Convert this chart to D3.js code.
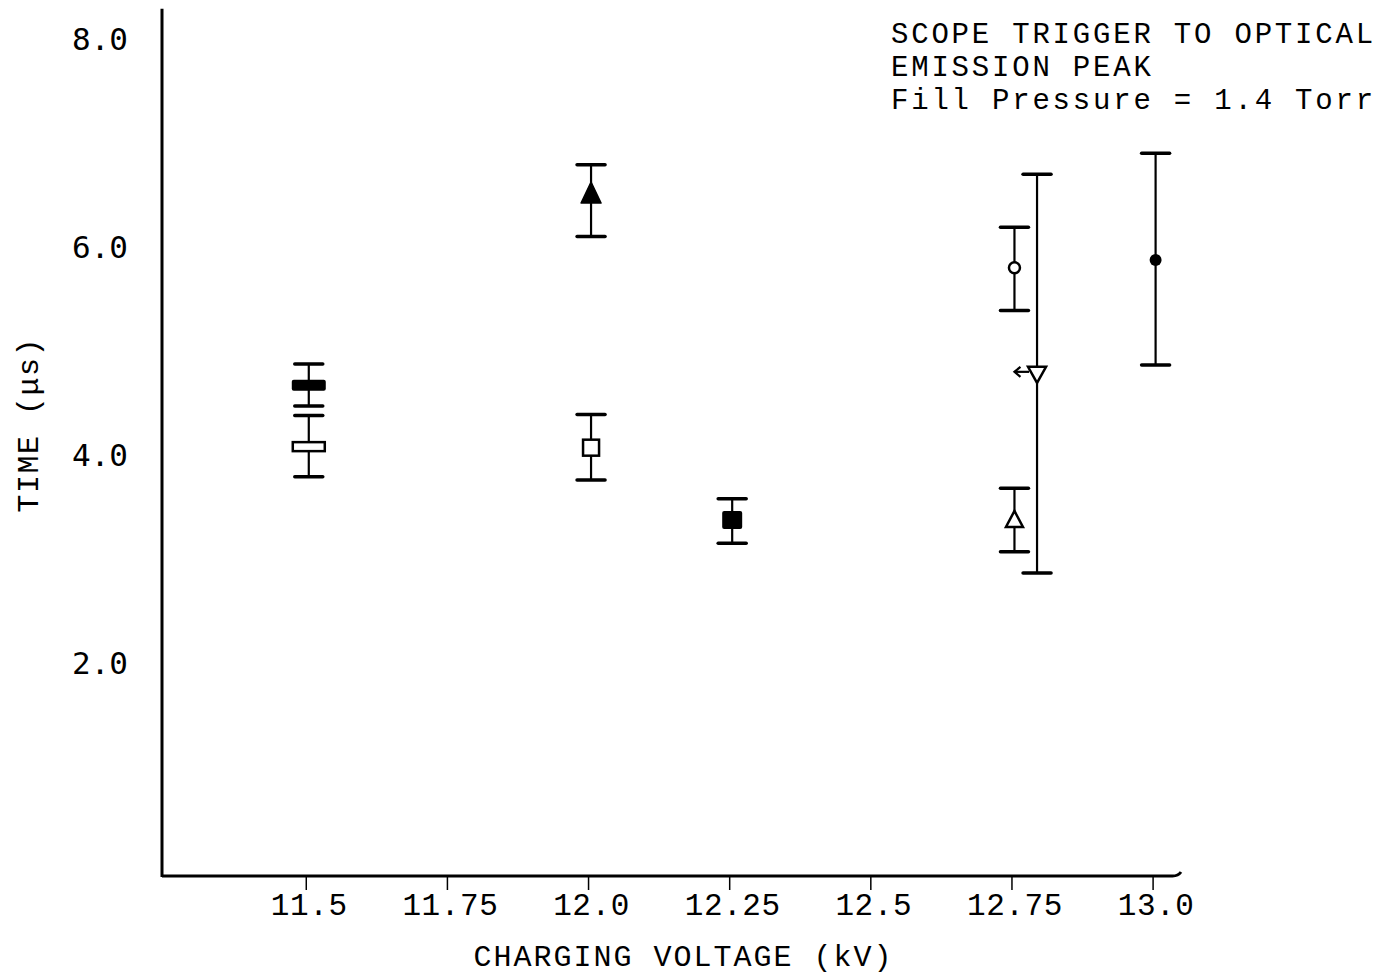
<!DOCTYPE html>
<html>
<head>
<meta charset="utf-8">
<script src="https://cdn.jsdelivr.net/npm/d3@7"></script>
<style>
  html, body { margin: 0; padding: 0; background: #fff; }
  svg { display: block; }
</style>
</head>
<body>
<svg id="chart" width="1381" height="976"></svg>
<script>
// ---- data ----
const xTickValues = [11.5, 11.75, 12.0, 12.25, 12.5, 12.75, 13.0];
const xTickLabels = ["11.5", "11.75", "12.0", "12.25", "12.5", "12.75", "13.0"];
const yTickValues = [2, 4, 6, 8];
const yTickLabels = ["2.0", "4.0", "6.0", "8.0"];

const pointX    = [11.5, 11.5, 12.0, 12.0, 12.25, 12.75, 12.75, 12.79, 13.0];
const pointY    = [4.68, 4.09, 6.51, 4.08, 3.385, 5.81, 3.385, 4.79, 5.885];
const pointLow  = [4.48, 3.80, 6.11, 3.77, 3.16, 5.40, 3.08, 2.875, 4.875];
const pointHigh = [4.885, 4.39, 6.80, 4.40, 3.59, 6.20, 3.69, 6.71, 6.91];
const pointMarker = ["filledBar", "openBar", "filledTriUp", "openSquare", "filledSquare",
                     "openCircle", "openTriUp", "openTriDown", "filledCircle"];
const arrowFrom = [null, null, null, null, null, null, null, 12.79, null];
const arrowTo   = [null, null, null, null, null, null, null, 12.75, null];

const titleLines = ["SCOPE TRIGGER TO OPTICAL", "EMISSION PEAK", "Fill Pressure = 1.4 Torr"];
const xTitle = "CHARGING VOLTAGE (kV)";
const yTitle = "TIME (\u03BCs)";

// ---- scales ----
const svg = d3.select("#chart");
const x = d3.scaleLinear().domain([11.24, 13.045]).range([162, 1181]);
const y = d3.scaleLinear().domain([0, 8]).range([872, 40]);
const yTop = 8.3;
const axisY = y(0) + 4;

const mono = "'Liberation Mono', 'Courier New', monospace";
const sansMono = "'DejaVu Sans Mono', monospace";

// ---- axes ----
svg.append("line")
  .attr("x1", x(11.24)).attr("x2", x(11.24))
  .attr("y1", y(yTop)).attr("y2", axisY + 1)
  .attr("stroke", "#000").attr("stroke-width", 3);

svg.append("path")
  .attr("d", `M${x(11.24)},${axisY} L${x(13.03)},${axisY} Q${x(13.04)},${axisY} ${x(13.045)},${axisY - 4}`)
  .attr("fill", "none").attr("stroke", "#000").attr("stroke-width", 3);

const xAxis = d3.axisBottom(x)
  .tickValues(xTickValues)
  .tickFormat((d, i) => xTickLabels[i])
  .tickSize(14)
  .tickPadding(3);

const gx = svg.append("g").attr("transform", `translate(0,${axisY})`).call(xAxis);
gx.select(".domain").remove();
gx.selectAll(".tick line").attr("stroke", "#000").attr("stroke-width", 1.5).attr("transform", "translate(-3,0)");
gx.selectAll(".tick text")
  .attr("font-family", mono).attr("font-size", 31).attr("letter-spacing", 0.6).attr("fill", "#000")
  .attr("dy", "0.71em");

const yAxis = d3.axisLeft(y)
  .tickValues(yTickValues)
  .tickFormat((d, i) => yTickLabels[i])
  .tickSize(0)
  .tickPadding(34);
const gy = svg.append("g").attr("transform", `translate(${x(11.24)},0)`).call(yAxis);
gy.select(".domain").remove();
gy.selectAll(".tick text")
  .attr("font-family", sansMono).attr("font-size", 31).attr("fill", "#000");

// axis titles
svg.append("text")
  .attr("x", (474 + 893) / 2).attr("y", 966)
  .attr("text-anchor", "middle")
  .attr("font-family", mono).attr("font-size", 30).attr("letter-spacing", 2)
  .attr("fill", "#000")
  .text(xTitle);

svg.append("text")
  .attr("transform", `translate(38,${y(4.3)}) rotate(-90)`)
  .attr("text-anchor", "middle")
  .attr("font-family", mono).attr("font-size", 30).attr("letter-spacing", 1.5)
  .attr("fill", "#000")
  .text(yTitle);

// annotation
svg.append("g").selectAll("text").data(titleLines).join("text")
  .attr("x", 891)
  .attr("y", (d, i) => 43 + i * 33)
  .attr("font-family", mono).attr("font-size", 29).attr("letter-spacing", 2.8)
  .attr("fill", "#000")
  .text(d => d);

// ---- error bars & markers ----
const pts = pointX.map((px, i) => ({
  x: px, y: pointY[i], lo: pointLow[i], hi: pointHigh[i], m: pointMarker[i],
  af: arrowFrom[i], at: arrowTo[i]
}));

const g = svg.append("g");
const capHalf = 14;

pts.forEach(p => {
  const cx = x(p.x), cy = y(p.y);
  // stem
  g.append("line")
    .attr("x1", cx).attr("x2", cx)
    .attr("y1", y(p.hi)).attr("y2", y(p.lo))
    .attr("stroke", "#000").attr("stroke-width", 2.2);
  // caps
  [p.hi, p.lo].forEach(v => {
    g.append("line")
      .attr("x1", cx - capHalf).attr("x2", cx + capHalf)
      .attr("y1", y(v)).attr("y2", y(v))
      .attr("stroke", "#000").attr("stroke-width", 3.5).attr("stroke-linecap", "round");
  });

  const sw = 2.5;
  switch (p.m) {
    case "filledBar":
      g.append("rect").attr("x", cx - 17).attr("y", cy - 5.5).attr("width", 34).attr("height", 11)
        .attr("rx", 2).attr("fill", "#000");
      break;
    case "openBar":
      g.append("rect").attr("x", cx - 16).attr("y", cy - 4.5).attr("width", 32).attr("height", 9)
        .attr("fill", "#fff").attr("stroke", "#000").attr("stroke-width", sw);
      break;
    case "openSquare":
      g.append("rect").attr("x", cx - 8).attr("y", cy - 8).attr("width", 16).attr("height", 16)
        .attr("fill", "#fff").attr("stroke", "#000").attr("stroke-width", sw);
      break;
    case "filledSquare":
      g.append("rect").attr("x", cx - 10).attr("y", cy - 9).attr("width", 20).attr("height", 18)
        .attr("rx", 2).attr("fill", "#000");
      break;
    case "filledTriUp":
      g.append("path").attr("d", `M${cx},${cy - 13} L${cx + 10},${cy + 8} L${cx - 10},${cy + 8} Z`)
        .attr("fill", "#000").attr("stroke", "#000").attr("stroke-width", 1.5).attr("stroke-linejoin", "round");
      break;
    case "openTriUp":
      g.append("path").attr("d", `M${cx},${cy - 9} L${cx + 8.5},${cy + 7} L${cx - 8.5},${cy + 7} Z`)
        .attr("fill", "#fff").attr("stroke", "#000").attr("stroke-width", sw);
      break;
    case "openTriDown":
      g.append("path").attr("d", `M${cx - 9},${cy - 7} L${cx + 9},${cy - 7} L${cx},${cy + 9} Z`)
        .attr("fill", "#fff").attr("stroke", "#000").attr("stroke-width", sw);
      break;
    case "openCircle":
      g.append("circle").attr("cx", cx).attr("cy", cy).attr("r", 5.5)
        .attr("fill", "#fff").attr("stroke", "#000").attr("stroke-width", sw);
      break;
    case "filledCircle":
      g.append("circle").attr("cx", cx).attr("cy", cy).attr("r", 6)
        .attr("fill", "#000");
      break;
  }

  if (p.af !== null) {
    const x0 = x(p.af) - 8, x1 = x(p.at);
    g.append("line").attr("x1", x0).attr("x2", x1).attr("y1", cy - 2).attr("y2", cy - 2)
      .attr("stroke", "#000").attr("stroke-width", 2.2);
    g.append("path").attr("d", `M${x1 + 6},${cy - 7} L${x1},${cy - 2} L${x1 + 6},${cy + 3}`)
      .attr("fill", "none").attr("stroke", "#000").attr("stroke-width", 2.2);
  }
});
</script>
</body>
</html>
